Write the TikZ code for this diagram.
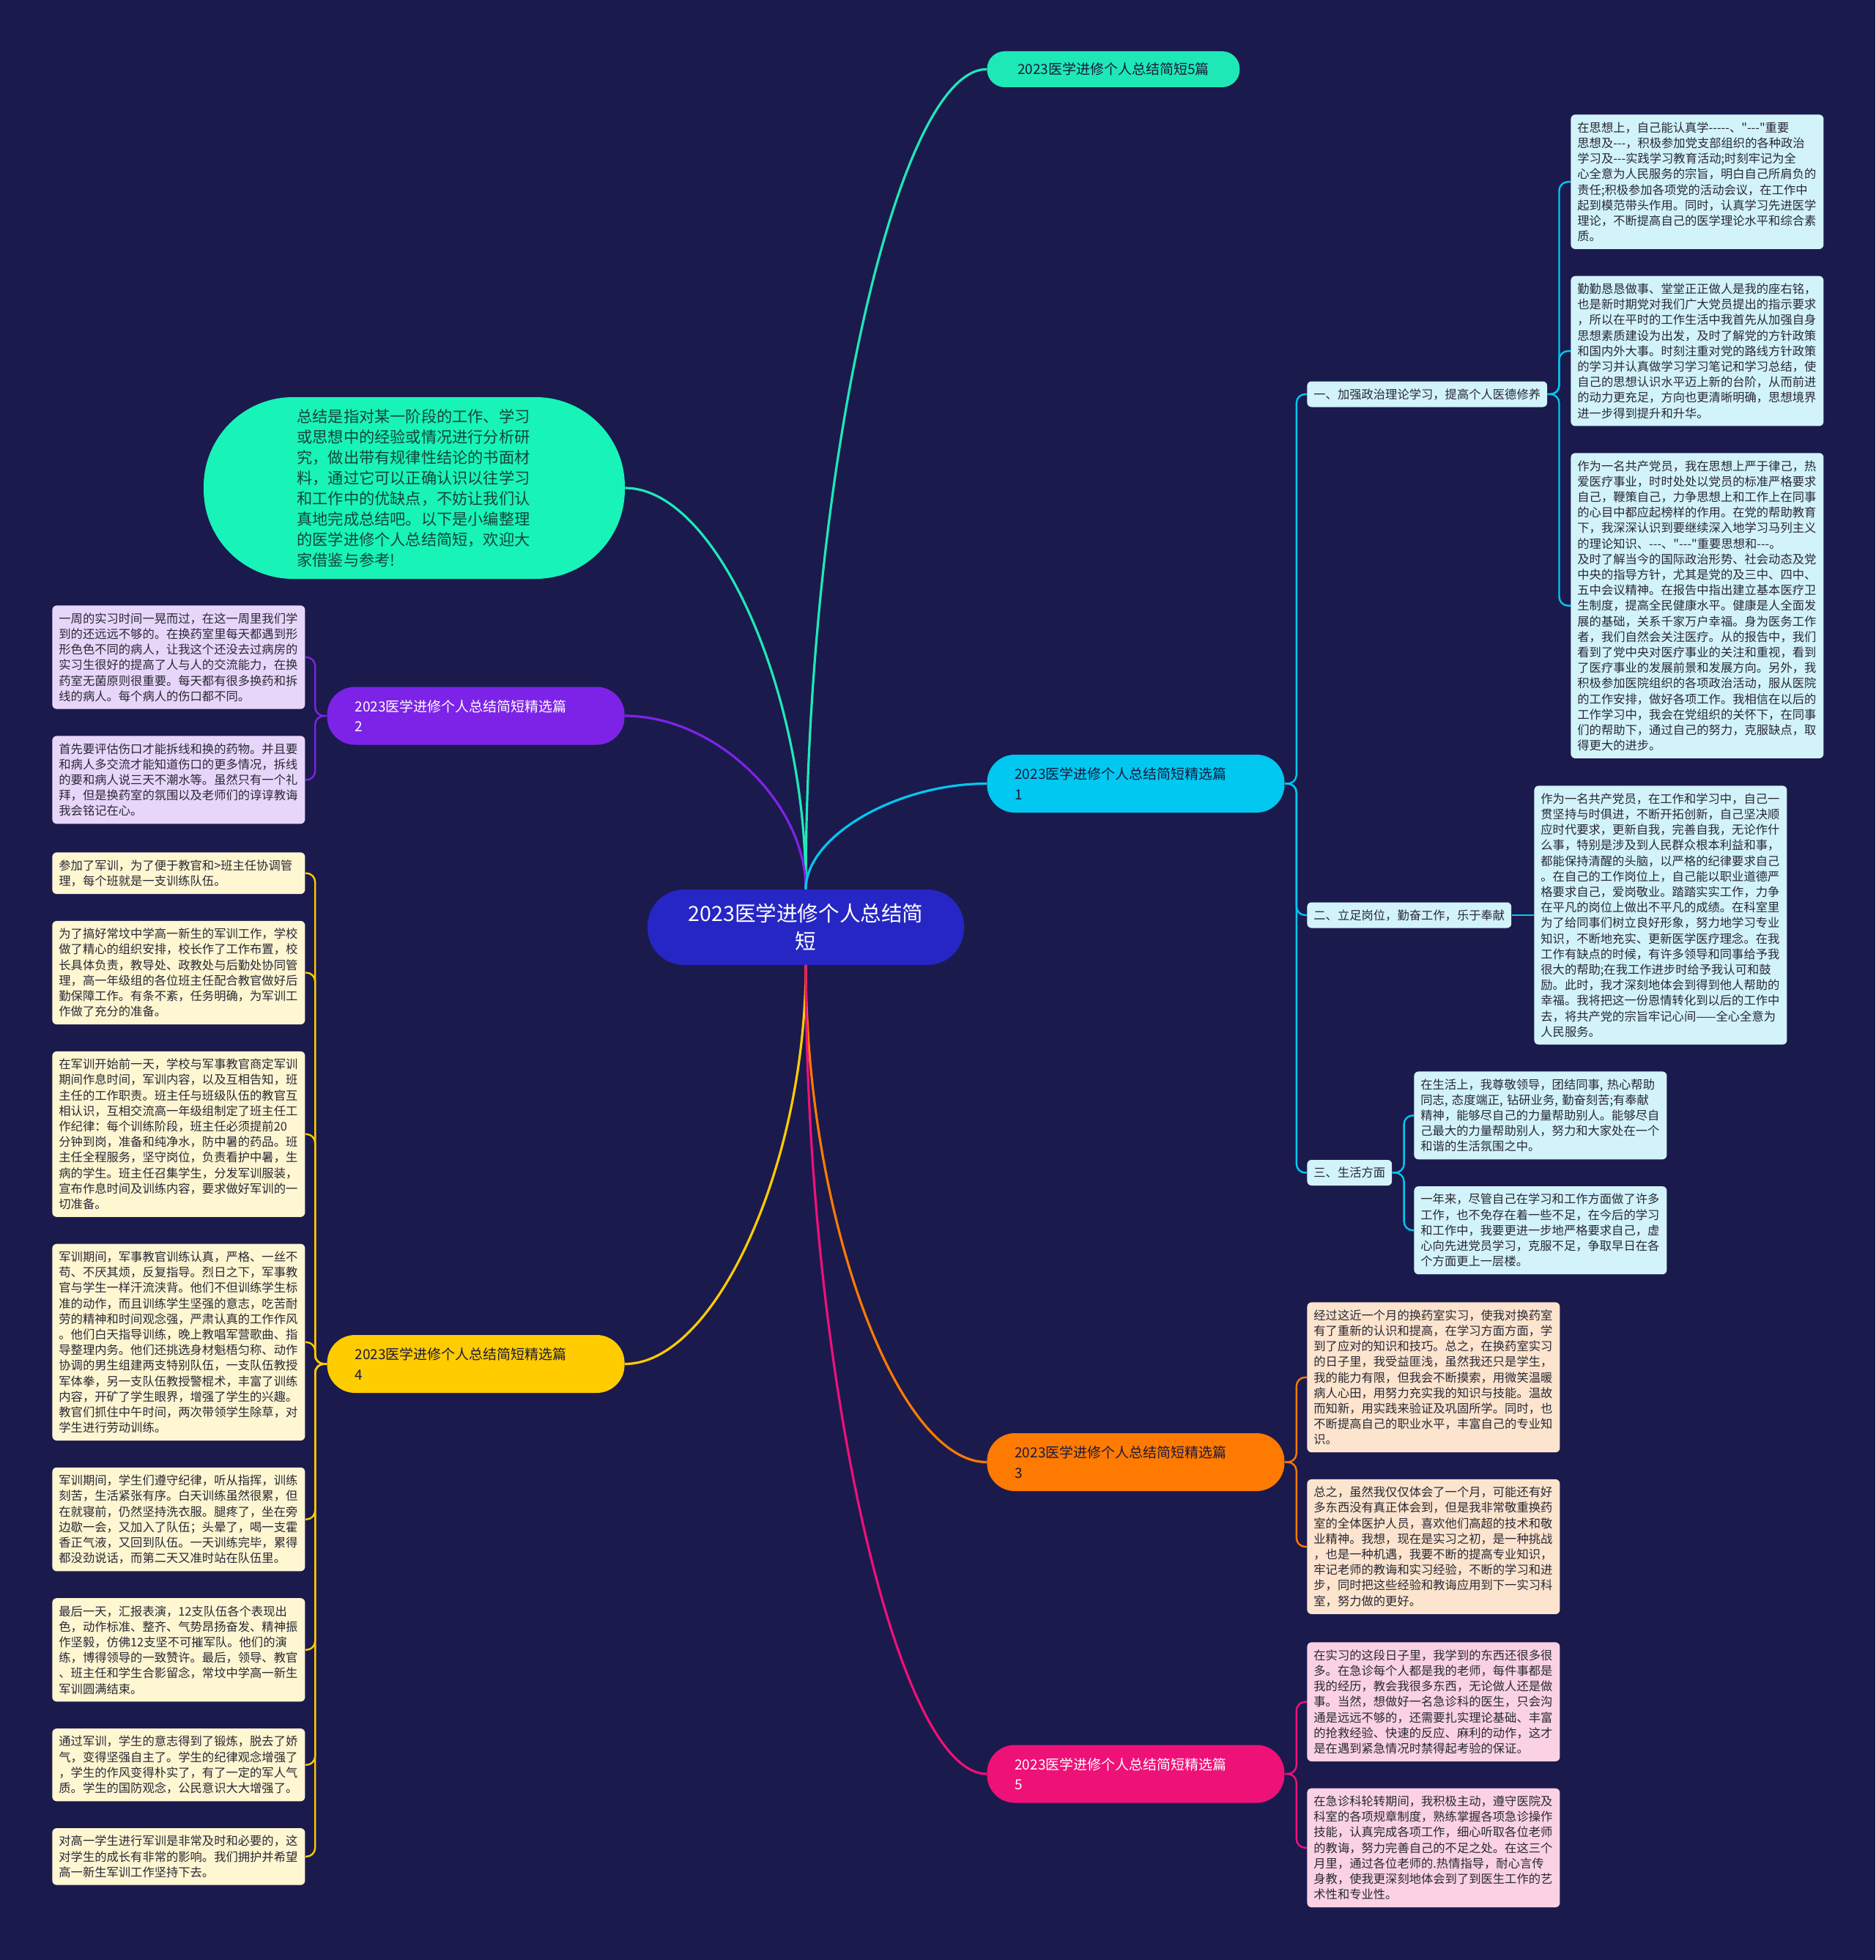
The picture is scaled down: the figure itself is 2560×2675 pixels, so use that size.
\documentclass[tikz,border=0pt]{standalone}
\usepackage{fontspec}
\setmainfont{Noto Sans CJK SC}[Ligatures=TeXOff]
\usepackage{xcolor}
\usepackage{tikz}
\usetikzlibrary{positioning, calc, backgrounds}

\definecolor{bgnavy}{RGB}{27,26,77}
\definecolor{rootblue}{RGB}{38,38,196}
\definecolor{tealc}{RGB}{30,233,182}
\definecolor{introc}{RGB}{24,243,184}
\definecolor{cyanc}{RGB}{0,200,240}
\definecolor{purplec}{RGB}{125,35,232}
\definecolor{yellowc}{RGB}{255,204,0}
\definecolor{orangec}{RGB}{255,122,0}
\definecolor{pinkc}{RGB}{238,17,120}
\definecolor{cyanleaf}{RGB}{210,243,250}
\definecolor{orangeleaf}{RGB}{252,228,206}
\definecolor{pinkleaf}{RGB}{250,210,228}
\definecolor{purpleleaf}{RGB}{232,214,250}
\definecolor{yellowleaf}{RGB}{255,246,210}
\definecolor{leaftext}{RGB}{40,40,52}
\definecolor{darktext}{RGB}{25,25,60}
\definecolor{introtext}{RGB}{20,70,55}

\tikzset{
  rootnode/.style={fill=rootblue, text=white, rounded corners=25pt, align=center,
                   minimum width=216pt, minimum height=51.5pt, font=\fontsize{14.3}{19}\selectfont},
  intronode/.style={fill=introc, text=introtext, rounded corners=61pt, align=left, text width=160pt,
                    minimum width=287.5pt, minimum height=124pt, font=\fontsize{10.6}{14}\selectfont},
  titlenode/.style={fill=tealc, text=darktext, rounded corners=12pt, align=center,
                    minimum width=172.5pt, minimum height=24.5pt, font=\fontsize{9.5}{13.6}\selectfont},
  topic/.style={rounded corners=19pt, align=left, text width=165pt, inner xsep=19pt,
                minimum height=39.5pt, font=\fontsize{9.5}{13.6}\selectfont},
  subnode/.style={fill=cyanleaf, text=leaftext, rounded corners=3pt, inner xsep=4.5pt,
                  minimum height=17.5pt, font=\fontsize{8.15}{10.6}\selectfont},
  leaf/.style={rounded corners=3pt, align=left, text width=163.5pt, inner xsep=4.5pt,
               inner ysep=5pt, text=leaftext, font=\fontsize{8.15}{10.6}\selectfont},
  mainline/.style={line width=1.6pt},
  leafline/.style={line width=1.2pt, rounded corners=6pt},
  branch/.style={to path={.. controls ($(\tikztostart)!0.5!(\tikztostart |- \tikztotarget)$)
                 and ($(\tikztotarget)!0.5!(\tikztostart |- \tikztotarget)$) .. (\tikztotarget)}}
}

\begin{document}
\begin{tikzpicture}[x=0.5pt, y=-0.5pt, node distance=18pt]
\useasboundingbox (0,0) rectangle (2560,2675);

% Root and summary
\node[rootnode] (root) at (1100,1265.5) {2023医学进修个人总结简\\短};
\node[intronode] (intro) at (565.5,666) {总结是指对某一阶段的工作、学习\\或思想中的经验或情况进行分析研\\究，做出带有规律性结论的书面材\\料，通过它可以正确认识以往学习\\和工作中的优缺点，不妨让我们认\\真地完成总结吧。以下是小编整理\\的医学进修个人总结简短，欢迎大\\家借鉴与参考!};
\node[titlenode, anchor=west] (short5) at (1347,94.5) {2023医学进修个人总结简短5篇};

% Topics
\node[topic, fill=cyanc, text=darktext, anchor=west] (topic1) at (1347,1069.5) {2023医学进修个人总结简短精选篇\\1};
\node[topic, fill=purplec, text=white, anchor=east] (topic2) at (853,977) {2023医学进修个人总结简短精选篇\\2};
\node[topic, fill=orangec, text=darktext, anchor=west] (topic3) at (1347,1995.5) {2023医学进修个人总结简短精选篇\\3};
\node[topic, fill=yellowc, text=darktext, anchor=east] (topic4) at (853,1861.5) {2023医学进修个人总结简短精选篇\\4};
\node[topic, fill=pinkc, text=white, anchor=west] (topic5) at (1347,2421) {2023医学进修个人总结简短精选篇\\5};

% Topic 1 leaves
\node[leaf, fill=cyanleaf, anchor=north west] (pol1) at (2144,156) {在思想上，自己能认真学-----、"---"重要\\思想及---，积极参加党支部组织的各种政治\\学习及---实践学习教育活动;时刻牢记为全\\心全意为人民服务的宗旨，明白自己所肩负的\\责任;积极参加各项党的活动会议，在工作中\\起到模范带头作用。同时，认真学习先进医学\\理论，不断提高自己的医学理论水平和综合素\\质。};
\node[leaf, fill=cyanleaf, below=of pol1] (pol2) {勤勤恳恳做事、堂堂正正做人是我的座右铭，\\也是新时期党对我们广大党员提出的指示要求\\，所以在平时的工作生活中我首先从加强自身\\思想素质建设为出发，及时了解党的方针政策\\和国内外大事。时刻注重对党的路线方针政策\\的学习并认真做学习学习笔记和学习总结，使\\自己的思想认识水平迈上新的台阶，从而前进\\的动力更充足，方向也更清晰明确，思想境界\\进一步得到提升和升华。};
\node[leaf, fill=cyanleaf, below=of pol2] (pol3) {作为一名共产党员，我在思想上严于律己，热\\爱医疗事业，时时处处以党员的标准严格要求\\自己，鞭策自己，力争思想上和工作上在同事\\的心目中都应起榜样的作用。在党的帮助教育\\下，我深深认识到要继续深入地学习马列主义\\的理论知识、---、"---"重要思想和---。\\及时了解当今的国际政治形势、社会动态及党\\中央的指导方针，尤其是党的及三中、四中、\\五中会议精神。在报告中指出建立基本医疗卫\\生制度，提高全民健康水平。健康是人全面发\\展的基础，关系千家万户幸福。身为医务工作\\者，我们自然会关注医疗。从的报告中，我们\\看到了党中央对医疗事业的关注和重视，看到\\了医疗事业的发展前景和发展方向。另外，我\\积极参加医院组织的各项政治活动，服从医院\\的工作安排，做好各项工作。我相信在以后的\\工作学习中，我会在党组织的关怀下，在同事\\们的帮助下，通过自己的努力，克服缺点，取\\得更大的进步。};
\node[leaf, fill=cyanleaf, anchor=north west] (post1) at (2094,1072) {作为一名共产党员，在工作和学习中，自己一\\贯坚持与时俱进，不断开拓创新，自己坚决顺\\应时代要求，更新自我，完善自我，无论作什\\么事，特别是涉及到人民群众根本利益和事，\\都能保持清醒的头脑，以严格的纪律要求自己\\。在自己的工作岗位上，自己能以职业道德严\\格要求自己，爱岗敬业。踏踏实实工作，力争\\在平凡的岗位上做出不平凡的成绩。在科室里\\为了给同事们树立良好形象，努力地学习专业\\知识，不断地充实、更新医学医疗理念。在我\\工作有缺点的时候，有许多领导和同事给予我\\很大的帮助;在我工作进步时给予我认可和鼓\\励。此时，我才深刻地体会到得到他人帮助的\\幸福。我将把这一份恩情转化到以后的工作中\\去，将共产党的宗旨牢记心间——全心全意为\\人民服务。};
\node[leaf, fill=cyanleaf, anchor=north west] (life1) at (1930,1462) {在生活上，我尊敬领导，团结同事, 热心帮助\\同志, 态度端正, 钻研业务, 勤奋刻苦;有奉献\\精神，能够尽自己的力量帮助别人。能够尽自\\己最大的力量帮助别人，努力和大家处在一个\\和谐的生活氛围之中。};
\node[leaf, fill=cyanleaf, below=of life1] (life2) {一年来，尽管自己在学习和工作方面做了许多\\工作，也不免存在着一些不足，在今后的学习\\和工作中，我要更进一步地严格要求自己，虚\\心向先进党员学习，克服不足，争取早日在各\\个方面更上一层楼。};

% Topic 1 subtopics
\coordinate (subx) at (1784,0);
\node[subnode, anchor=west] (pol) at (1784,538) {一、加强政治理论学习，提高个人医德修养};
\node[subnode, anchor=west] (post) at (post1.west -| subx) {二、立足岗位，勤奋工作，乐于奉献};
\node[subnode, anchor=west] (life) at (1784,1600.5) {三、生活方面};

% Topic 3 leaves
\node[leaf, fill=orangeleaf, anchor=north west] (drug1) at (1784,1777) {经过这近一个月的换药室实习，使我对换药室\\有了重新的认识和提高，在学习方面方面，学\\到了应对的知识和技巧。总之，在换药室实习\\的日子里，我受益匪浅，虽然我还只是学生，\\我的能力有限，但我会不断摸索，用微笑温暖\\病人心田，用努力充实我的知识与技能。温故\\而知新，用实践来验证及巩固所学。同时，也\\不断提高自己的职业水平，丰富自己的专业知\\识。};
\node[leaf, fill=orangeleaf, below=of drug1] (drug2) {总之，虽然我仅仅体会了一个月，可能还有好\\多东西没有真正体会到，但是我非常敬重换药\\室的全体医护人员，喜欢他们高超的技术和敬\\业精神。我想，现在是实习之初，是一种挑战\\，也是一种机遇，我要不断的提高专业知识，\\牢记老师的教诲和实习经验，不断的学习和进\\步，同时把这些经验和教诲应用到下一实习科\\室，努力做的更好。};

% Topic 5 leaves
\node[leaf, fill=pinkleaf, anchor=north west] (er1) at (1784,2241) {在实习的这段日子里，我学到的东西还很多很\\多。在急诊每个人都是我的老师，每件事都是\\我的经历，教会我很多东西，无论做人还是做\\事。当然，想做好一名急诊科的医生，只会沟\\通是远远不够的，还需要扎实理论基础、丰富\\的抢救经验、快速的反应、麻利的动作，这才\\是在遇到紧急情况时禁得起考验的保证。};
\node[leaf, fill=pinkleaf, below=of er1] (er2) {在急诊科轮转期间，我积极主动，遵守医院及\\科室的各项规章制度，熟练掌握各项急诊操作\\技能，认真完成各项工作，细心听取各位老师\\的教诲，努力完善自己的不足之处。在这三个\\月里，通过各位老师的.热情指导，耐心言传\\身教，使我更深刻地体会到了到医生工作的艺\\术性和专业性。};

% Topic 2 leaves
\node[leaf, fill=purpleleaf, anchor=north west] (ward1) at (71,826) {一周的实习时间一晃而过，在这一周里我们学\\到的还远远不够的。在换药室里每天都遇到形\\形色色不同的病人，让我这个还没去过病房的\\实习生很好的提高了人与人的交流能力，在换\\药室无菌原则很重要。每天都有很多换药和拆\\线的病人。每个病人的伤口都不同。};
\node[leaf, fill=purpleleaf, below=of ward1] (ward2) {首先要评估伤口才能拆线和换的药物。并且要\\和病人多交流才能知道伤口的更多情况，拆线\\的要和病人说三天不潮水等。虽然只有一个礼\\拜，但是换药室的氛围以及老师们的谆谆教诲\\我会铭记在心。};

% Topic 4 leaves
\node[leaf, fill=yellowleaf, anchor=north west] (mil1) at (71,1163) {参加了军训，为了便于教官和>班主任协调管\\理，每个班就是一支训练队伍。};
\node[leaf, fill=yellowleaf, below=of mil1] (mil2) {为了搞好常坟中学高一新生的军训工作，学校\\做了精心的组织安排，校长作了工作布置，校\\长具体负责，教导处、政教处与后勤处协同管\\理，高一年级组的各位班主任配合教官做好后\\勤保障工作。有条不紊，任务明确，为军训工\\作做了充分的准备。};
\node[leaf, fill=yellowleaf, below=of mil2] (mil3) {在军训开始前一天，学校与军事教官商定军训\\期间作息时间，军训内容，以及互相告知，班\\主任的工作职责。班主任与班级队伍的教官互\\相认识，互相交流高一年级组制定了班主任工\\作纪律：每个训练阶段，班主任必须提前20\\分钟到岗，准备和纯净水，防中暑的药品。班\\主任全程服务，坚守岗位，负责看护中暑，生\\病的学生。班主任召集学生，分发军训服装，\\宣布作息时间及训练内容，要求做好军训的一\\切准备。};
\node[leaf, fill=yellowleaf, below=of mil3] (mil4) {军训期间，军事教官训练认真，严格、一丝不\\苟、不厌其烦，反复指导。烈日之下，军事教\\官与学生一样汗流浃背。他们不但训练学生标\\准的动作，而且训练学生坚强的意志，吃苦耐\\劳的精神和时间观念强，严肃认真的工作作风\\。他们白天指导训练，晚上教唱军营歌曲、指\\导整理内务。他们还挑选身材魁梧匀称、动作\\协调的男生组建两支特别队伍，一支队伍教授\\军体拳，另一支队伍教授警棍术，丰富了训练\\内容，开矿了学生眼界，增强了学生的兴趣。\\教官们抓住中午时间，两次带领学生除草，对\\学生进行劳动训练。};
\node[leaf, fill=yellowleaf, below=of mil4] (mil5) {军训期间，学生们遵守纪律，听从指挥，训练\\刻苦，生活紧张有序。白天训练虽然很累，但\\在就寝前，仍然坚持洗衣服。腿疼了，坐在旁\\边歇一会，又加入了队伍；头晕了，喝一支霍\\香正气液，又回到队伍。一天训练完毕，累得\\都没劲说话，而第二天又准时站在队伍里。};
\node[leaf, fill=yellowleaf, below=of mil5] (mil6) {最后一天，汇报表演，12支队伍各个表现出\\色，动作标准、整齐、气势昂扬奋发、精神振\\作坚毅，仿佛12支坚不可摧军队。他们的演\\练，博得领导的一致赞许。最后，领导、教官\\、班主任和学生合影留念，常坟中学高一新生\\军训圆满结束。};
\node[leaf, fill=yellowleaf, below=of mil6] (mil7) {通过军训，学生的意志得到了锻炼，脱去了娇\\气，变得坚强自主了。学生的纪律观念增强了\\，学生的作风变得朴实了，有了一定的军人气\\质。学生的国防观念，公民意识大大增强了。};
\node[leaf, fill=yellowleaf, below=of mil7] (mil8) {对高一学生进行军训是非常及时和必要的，这\\对学生的成长有非常的影响。我们拥护并希望\\高一新生军训工作坚持下去。};

% Connectors
\begin{scope}[on background layer]
  \fill[bgnavy] (0,0) rectangle (2560,2675);
  \draw[mainline, tealc] (root.north) to[branch] (short5.west);
  \draw[mainline, tealc] (root.north) to[branch] (intro.east);
  \draw[mainline, purplec] (root.north) to[branch] (topic2.east);
  \draw[mainline, cyanc] (root.north) to[branch] (topic1.west);
  \draw[mainline, yellowc] (root.south) to[branch] (topic4.east);
  \draw[mainline, orangec] (root.south) to[branch] (topic3.west);
  \draw[mainline, pinkc] (root.south) to[branch] (topic5.west);

  \foreach \s in {pol, post, life}
    \draw[leafline, cyanc] (topic1.east) -- ++(8pt,0) |- (\s.west);
  \foreach \s in {pol1, pol2, pol3}
    \draw[leafline, cyanc] (pol.east) -- ++(8pt,0) |- (\s.west);
  \draw[leafline, cyanc] (post.east) -- (post1.west);
  \foreach \s in {life1, life2}
    \draw[leafline, cyanc] (life.east) -- ++(8pt,0) |- (\s.west);
  \foreach \s in {drug1, drug2}
    \draw[leafline, orangec] (topic3.east) -- ++(8pt,0) |- (\s.west);
  \foreach \s in {er1, er2}
    \draw[leafline, pinkc] (topic5.east) -- ++(8pt,0) |- (\s.west);
  \foreach \s in {ward1, ward2}
    \draw[leafline, purplec] (topic2.west) -- ++(-8pt,0) |- (\s.east);
  \foreach \s in {mil1, mil2, mil3, mil4, mil5, mil6, mil7, mil8}
    \draw[leafline, yellowc] (topic4.west) -- ++(-8pt,0) |- (\s.east);
\end{scope}

\end{tikzpicture}
\end{document}
